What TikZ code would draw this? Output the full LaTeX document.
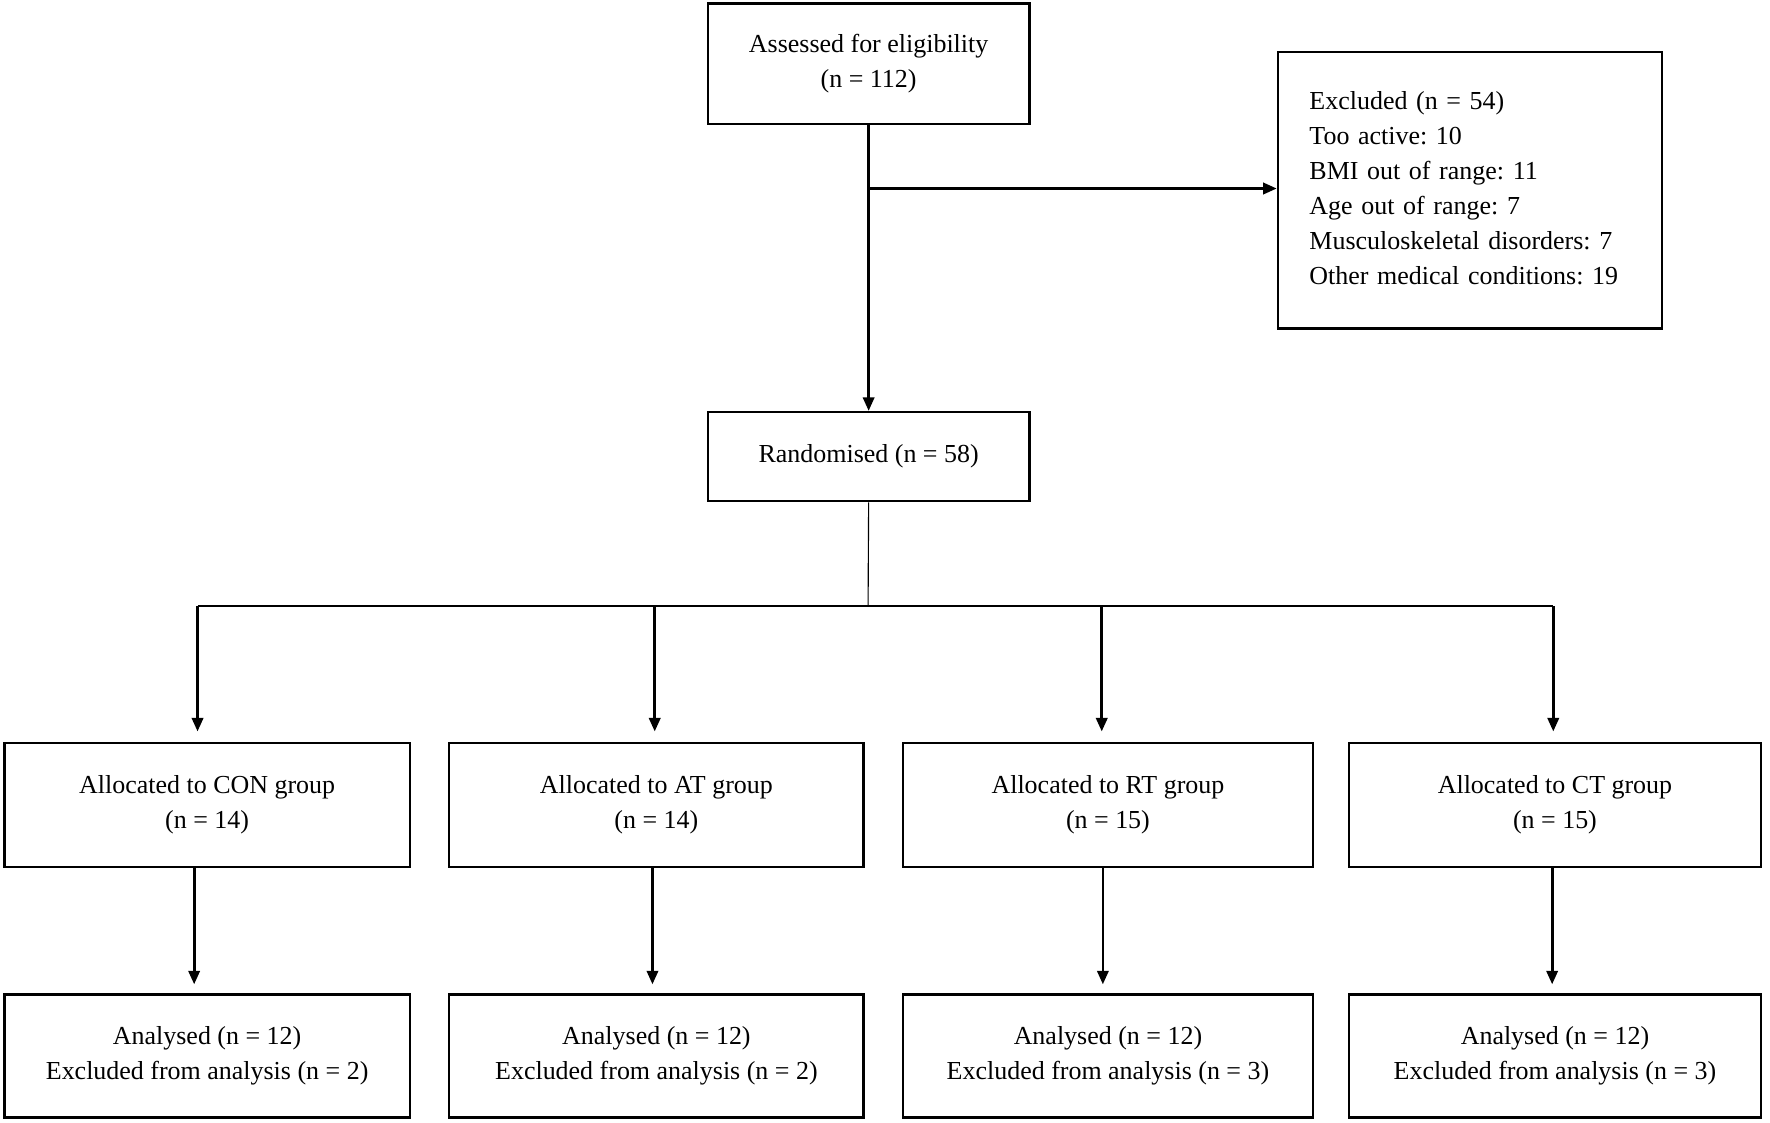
\documentclass[tikz,border=0pt]{standalone}
\usepackage{fontspec}
\setmainfont{Liberation Serif}
\usetikzlibrary{arrows.meta}
\frenchspacing
\begin{document}
\begin{tikzpicture}[x=0.5pt,y=-0.5pt,
  box/.style={draw,line width=1pt,inner sep=0pt,align=center,font=\fontsize{11.5}{15.5}\selectfont},
  arr/.style={line width=1.2pt,-{Triangle[length=6pt,width=5pt]}}]
\useasboundingbox (0,0) rectangle (1568,994);
\node[box,minimum width=142.5pt,minimum height=53.5pt] (assess) at (769.5,56.5) {Assessed for eligibility\\(n = 112)};
\node[box,minimum width=170pt,minimum height=122.5pt,text width=160pt,align=left,anchor=north west,inner xsep=0pt] (excl) at (1131,45) {\hspace*{9pt}\begin{tabular}{@{}l@{}}Excluded (n = 54)\\Too active: 10\\BMI out of range: 11\\Age out of range: 7\\Musculoskeletal disorders: 7\\Other medical conditions: 19\end{tabular}\\[10pt]};
\node[box,minimum width=142.5pt,minimum height=39.5pt] (rand) at (769.5,404.5) {Randomised (n = 58)};
\foreach \n/\a/\b/\t/\k/\e in {con/4/363/CON/14/2, at/398/765/AT/14/2, rt/800/1163/RT/15/3, ct/1195/1560/CT/15/3}{
  \node[box,minimum width={(\b-\a)*0.5pt},minimum height=55pt] (a\n) at ({(\a+\b)/2},713) {Allocated to \t\ group\\(n = \k)};
  \node[box,minimum width={(\b-\a)*0.5pt},minimum height=54.5pt] (b\n) at ({(\a+\b)/2},935.5) {Analysed (n = 12)\\Excluded from analysis (n = \e)};
}
\coordinate (br) at (769,167);
\draw[arr] (assess.south) -- (rand.north);
\draw[arr] (br) -- (excl.west |- br);
\coordinate (sp) at (769,537);
\draw[line width=0.5pt] (rand.south) -- (sp);
\coordinate (l1) at (175,537); \coordinate (l2) at (580,537);
\coordinate (l3) at (976,537); \coordinate (l4) at (1376,537);
\draw[line width=1pt] (l1) -- (l4);
\draw[arr] (l1) -- (175,648);
\draw[arr] (l2) -- (580,648);
\draw[arr] (l3) -- (976,648);
\draw[arr] (l4) -- (1376,648);
\draw[arr] (172,768) -- (172,872);
\draw[arr] (578,768) -- (578,872);
\draw[arr] (977,768) -- (977,872);
\draw[arr] (1375,768) -- (1375,872);
\end{tikzpicture}
\end{document}
